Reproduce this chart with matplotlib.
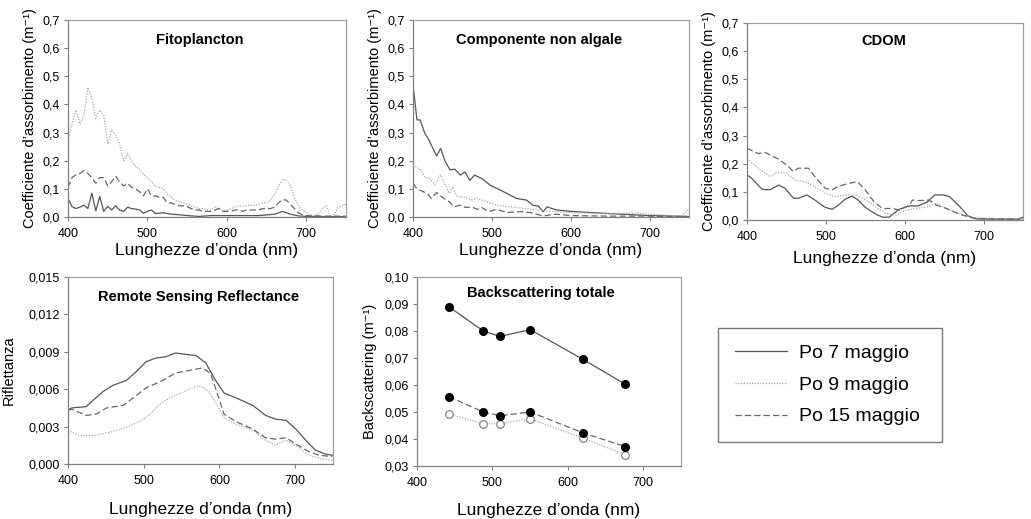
import matplotlib
matplotlib.use("Agg")
import matplotlib.pyplot as plt
from matplotlib.lines import Line2D
from matplotlib.ticker import FuncFormatter

plt.rcParams['font.family'] = ['Liberation Sans', 'DejaVu Sans']

# ---- Fitoplancton ----
fito_wl_7 = [400, 405, 410, 415, 420, 425, 430, 435, 440, 445, 450, 455, 460, 465, 470, 475,
             480, 485, 490, 495, 500, 505, 510, 520, 530, 540, 550, 565, 580, 600, 640,
             660, 670, 680, 690, 700, 750]
fito_7 = [0.066, 0.037, 0.030, 0.035, 0.042, 0.030, 0.085, 0.022, 0.073, 0.020, 0.038, 0.025,
          0.040, 0.025, 0.020, 0.035, 0.030, 0.028, 0.025, 0.013, 0.020, 0.025, 0.012, 0.015,
          0.010, 0.008, 0.005, 0.002, 0.005, 0.005, 0.005, 0.010, 0.020, 0.010, 0.004, 0.002, 0.001]

fito_wl = list(range(400, 751, 5))
fito_9 = [0.27, 0.33, 0.38, 0.33, 0.36, 0.46, 0.42, 0.35, 0.38, 0.36, 0.26, 0.31, 0.29, 0.26,
          0.20, 0.225, 0.20, 0.18, 0.17, 0.15, 0.14, 0.125, 0.11, 0.105, 0.10, 0.08, 0.07, 0.06,
          0.055, 0.05, 0.045, 0.04, 0.035, 0.03, 0.03, 0.025, 0.025, 0.035, 0.03, 0.02, 0.025,
          0.03, 0.035, 0.04, 0.038, 0.04, 0.042, 0.04, 0.045, 0.05, 0.05, 0.06, 0.08, 0.11,
          0.135, 0.13, 0.11, 0.07, 0.04, 0.025, 0.015, 0.008, 0.005, 0.01, 0.03, 0.04, 0.005,
          0.01, 0.035, 0.04, 0.045]
fito_15 = [0.105, 0.14, 0.15, 0.155, 0.165, 0.155, 0.14, 0.12, 0.14, 0.14, 0.11, 0.125, 0.145,
           0.125, 0.11, 0.12, 0.105, 0.10, 0.09, 0.075, 0.10, 0.075, 0.075, 0.07, 0.07, 0.05,
           0.05, 0.045, 0.04, 0.04, 0.037, 0.03, 0.025, 0.025, 0.02, 0.02, 0.02, 0.025, 0.03,
           0.02, 0.02, 0.02, 0.025, 0.025, 0.02, 0.025, 0.025, 0.025, 0.025, 0.03, 0.03, 0.03,
           0.035, 0.05, 0.062, 0.06, 0.045, 0.03, 0.015, 0.008, 0.005, 0.004, 0.004, 0.004,
           0.003, 0.003, 0.003, 0.003, 0.003, 0.003, 0.003]

# ---- Componente non algale ----
nap_wl_7 = [400, 405, 409, 415, 419, 430, 435, 441, 447, 453, 460, 466, 472, 478, 487, 498,
            506, 519, 531, 544, 552, 559, 565, 570, 582, 600, 650, 700, 740, 750]
nap_7 = [0.47, 0.345, 0.345, 0.297, 0.28, 0.217, 0.244, 0.196, 0.167, 0.17, 0.149, 0.16, 0.13,
         0.149, 0.137, 0.113, 0.102, 0.084, 0.066, 0.06, 0.042, 0.039, 0.019, 0.036, 0.025,
         0.02, 0.012, 0.005, 0.003, 0.002]
nap_wl_9 = [400, 409, 415, 421, 428, 435, 441, 446, 450, 456, 465, 473, 481, 494, 506, 523,
            544, 565, 582, 600, 650, 680, 700, 740, 750]
nap_9 = [0.185, 0.17, 0.143, 0.137, 0.113, 0.149, 0.113, 0.084, 0.108, 0.072, 0.072, 0.06,
         0.066, 0.054, 0.042, 0.036, 0.03, 0.022, 0.019, 0.015, 0.012, 0.015, 0.01, 0.003, 0.03]
nap_wl_15 = [400, 405, 413, 419, 423, 430, 436, 446, 452, 460, 467, 475, 481, 487, 496, 506,
             519, 536, 548, 565, 582, 600, 650, 700, 750]
nap_15 = [0.12, 0.10, 0.09, 0.082, 0.066, 0.087, 0.072, 0.054, 0.036, 0.042, 0.034, 0.036,
          0.027, 0.034, 0.019, 0.027, 0.016, 0.019, 0.016, 0.004, 0.01, 0.005, 0.003, 0.003, 0.0]

# ---- CDOM ----
cdom_wl_7 = [400, 406, 419, 429, 440, 448, 459, 465, 476, 486, 499, 508, 516, 524, 533, 541,
             550, 563, 572, 580, 593, 606, 617, 629, 638, 649, 657, 670, 680, 691, 745, 750]
cdom_7 = [0.16, 0.148, 0.109, 0.107, 0.124, 0.113, 0.077, 0.077, 0.089, 0.071, 0.045, 0.038,
          0.053, 0.073, 0.085, 0.071, 0.045, 0.021, 0.01, 0.01, 0.038, 0.05, 0.05, 0.065, 0.089,
          0.089, 0.083, 0.047, 0.015, 0.004, 0.003, 0.01]
cdom_wl_9 = [400, 414, 429, 437, 450, 461, 473, 486, 499, 512, 524, 537, 550, 563, 576, 589,
             602, 614, 627, 640, 649, 661, 674, 687, 750]
cdom_9 = [0.219, 0.184, 0.154, 0.168, 0.168, 0.142, 0.136, 0.118, 0.095, 0.083, 0.089, 0.089,
          0.073, 0.047, 0.024, 0.018, 0.035, 0.041, 0.045, 0.061, 0.045, 0.03, 0.018, 0.008, 0.003]
cdom_wl_15 = [400, 414, 423, 440, 450, 459, 465, 478, 486, 499, 508, 516, 529, 540, 550, 561,
              572, 585, 593, 606, 610, 619, 631, 640, 653, 670, 683, 691, 745, 750]
cdom_15 = [0.255, 0.236, 0.24, 0.216, 0.196, 0.172, 0.184, 0.184, 0.154, 0.113, 0.107, 0.12,
           0.13, 0.136, 0.107, 0.065, 0.041, 0.041, 0.035, 0.053, 0.071, 0.069, 0.071, 0.053,
           0.041, 0.02, 0.01, 0.004, 0.003, 0.01]

# ---- Remote Sensing Reflectance ----
rrs_wl_7 = [400, 405, 424, 433, 446, 459, 477, 490, 503, 516, 529, 542, 555, 569, 582, 595,
            606, 622, 644, 661, 674, 688, 701, 714, 727, 740, 749]
rrs_7 = [0.00433, 0.0045, 0.0046, 0.0051, 0.0058, 0.0063, 0.0067, 0.0074, 0.0082, 0.0085,
         0.0086, 0.0089, 0.0088, 0.0087, 0.0081, 0.0067, 0.0057, 0.0053, 0.0047, 0.0039,
         0.0036, 0.0035, 0.0028, 0.0019, 0.0011, 0.0008, 0.0007]
rrs_wl_9 = [400, 414, 436, 458, 480, 503, 525, 542, 560, 573, 586, 597, 606, 622, 644, 661,
            674, 688, 701, 718, 736, 749]
rrs_9 = [0.0027, 0.0023, 0.0023, 0.0026, 0.0030, 0.0037, 0.0050, 0.0055, 0.0060, 0.0063,
         0.0058, 0.0047, 0.0037, 0.0032, 0.0027, 0.0019, 0.0015, 0.0019, 0.0015, 0.0007,
         0.0004, 0.0003]
rrs_wl_15 = [400, 405, 424, 437, 451, 473, 486, 503, 525, 542, 560, 577, 588, 597, 606, 622,
             644, 661, 674, 688, 701, 718, 732, 749]
rrs_15 = [0.0043, 0.0044, 0.0039, 0.0040, 0.0045, 0.0047, 0.0053, 0.0061, 0.0067, 0.0073,
          0.0075, 0.0077, 0.0073, 0.0057, 0.0040, 0.0034, 0.0028, 0.0021, 0.0020, 0.0021,
          0.0016, 0.0010, 0.0007, 0.0006]

# ---- Backscattering totale ----
bb_wl = [442, 488, 510, 550, 620, 676]
bb_7 = [0.089, 0.080, 0.078, 0.0805, 0.0695, 0.0603]
bb_9 = [0.0492, 0.0456, 0.0457, 0.0475, 0.0403, 0.0342]
bb_15 = [0.0557, 0.0500, 0.0486, 0.0500, 0.0423, 0.0372]

labels = ['Po 7 maggio', 'Po 9 maggio', 'Po 15 maggio']
sty7 = dict(color='#555555', lw=0.9, ls='-')
sty9 = dict(color='#aaaaaa', lw=0.9, ls=(0, (1, 1.2)))
sty15 = dict(color='#666666', lw=0.9, ls=(0, (5, 2.5)))

W, H = 1031, 519
fig = plt.figure(figsize=(W / 100, H / 100), dpi=100)


def box(x0, y0, x1, y1):
    return [x0 / W, 1 - y1 / H, (x1 - x0) / W, (y1 - y0) / H]


def comma(nd):
    return FuncFormatter(lambda v, p: f"{v:.{nd}f}".replace('.', ','))


def style(ax, ylim, yticks, nd, title, tx, ty, ylabel, ylabpad=4, xlabpad=2):
    ax.set_xlim(400, 750)
    ax.set_ylim(*ylim)
    ax.set_xticks([400, 500, 600, 700])
    ax.set_yticks(yticks)
    ax.yaxis.set_major_formatter(comma(nd))
    for s in ['top', 'right']:
        ax.spines[s].set_color('#a0a0a0')
        ax.spines[s].set_linewidth(0.9)
    for s in ['left', 'bottom']:
        ax.spines[s].set_color('#808080')
        ax.spines[s].set_linewidth(0.9)
    ax.tick_params(direction='out', length=3, width=0.8, color='#808080',
                   labelsize=9, pad=3)
    ax.tick_params(axis='x', pad=5)
    ax.set_xlabel('Lunghezze d\u2019onda (nm)', fontsize=12.5, labelpad=xlabpad)
    ax.set_ylabel(ylabel, fontsize=10.5, labelpad=ylabpad)
    ax.text(tx, ty, title, transform=ax.transAxes, ha='center', va='center',
            fontsize=10.5, fontweight='bold')


absorb = 'Coefficiente d\u2019assorbimento (m\u207b\u00b9)'
ticks07 = [0, 0.1, 0.2, 0.3, 0.4, 0.5, 0.6, 0.7]

ax1 = fig.add_axes(box(68, 20, 346, 217))
ax1.plot(fito_wl_7, fito_7, **sty7)
ax1.plot(fito_wl, fito_9, **sty9)
ax1.plot(fito_wl, fito_15, **sty15)
style(ax1, (0, 0.7), ticks07, 1, 'Fitoplancton', 0.475, 0.9, absorb)

ax2 = fig.add_axes(box(413, 20, 689, 217))
ax2.plot(nap_wl_7, nap_7, **sty7)
ax2.plot(nap_wl_9, nap_9, **sty9)
ax2.plot(nap_wl_15, nap_15, **sty15)
style(ax2, (0, 0.7), ticks07, 1, 'Componente non algale', 0.457, 0.9, absorb)

ax3 = fig.add_axes(box(747, 23, 1023, 220))
ax3.plot(cdom_wl_7, cdom_7, **sty7)
ax3.plot(cdom_wl_9, cdom_9, **sty9)
ax3.plot(cdom_wl_15, cdom_15, **sty15)
style(ax3, (0, 0.7), ticks07, 1, 'CDOM', 0.496, 0.91, absorb, xlabpad=6)

ax4 = fig.add_axes(box(68, 277, 333, 464))
ax4.plot(rrs_wl_7, rrs_7, **sty7)
ax4.plot(rrs_wl_9, rrs_9, **sty9)
ax4.plot(rrs_wl_15, rrs_15, **sty15)
style(ax4, (0, 0.015), [0, 0.003, 0.006, 0.009, 0.012, 0.015], 3,
      'Remote Sensing Reflectance', 0.494, 0.895, 'Riflettanza', ylabpad=9, xlabpad=11)

ax5 = fig.add_axes(box(417, 277, 681, 466))
ax5.plot(bb_wl, bb_7, marker='o', ms=5.5, mfc='black', mec='black', **sty7)
ax5.plot(bb_wl, bb_9, marker='o', ms=5.5, mfc='white', mec='#777777', mew=0.8, **sty9)
ax5.plot(bb_wl, bb_15, marker='o', ms=5.5, mfc='black', mec='black', **sty15)
style(ax5, (0.03, 0.10), [0.03, 0.04, 0.05, 0.06, 0.07, 0.08, 0.09, 0.10], 2,
      'Backscattering totale', 0.47, 0.915, 'Backscattering (m\u207b\u00b9)', ylabpad=5,
      xlabpad=10)

handles = [Line2D([], [], **sty7), Line2D([], [], **sty9), Line2D([], [], **sty15)]
leg = fig.legend(handles, labels, loc='upper left', mode='expand',
                 bbox_to_anchor=(718 / W, 1 - 439 / H, 224 / W, 111 / H),
                 borderaxespad=0, fontsize=14, handlelength=2.7, handletextpad=0.6,
                 labelspacing=0.72, borderpad=0.85, fancybox=False, frameon=True)
leg.get_frame().set_edgecolor('#555555')
leg.get_frame().set_linewidth(1.0)

fig.savefig('out.png', dpi=100)
